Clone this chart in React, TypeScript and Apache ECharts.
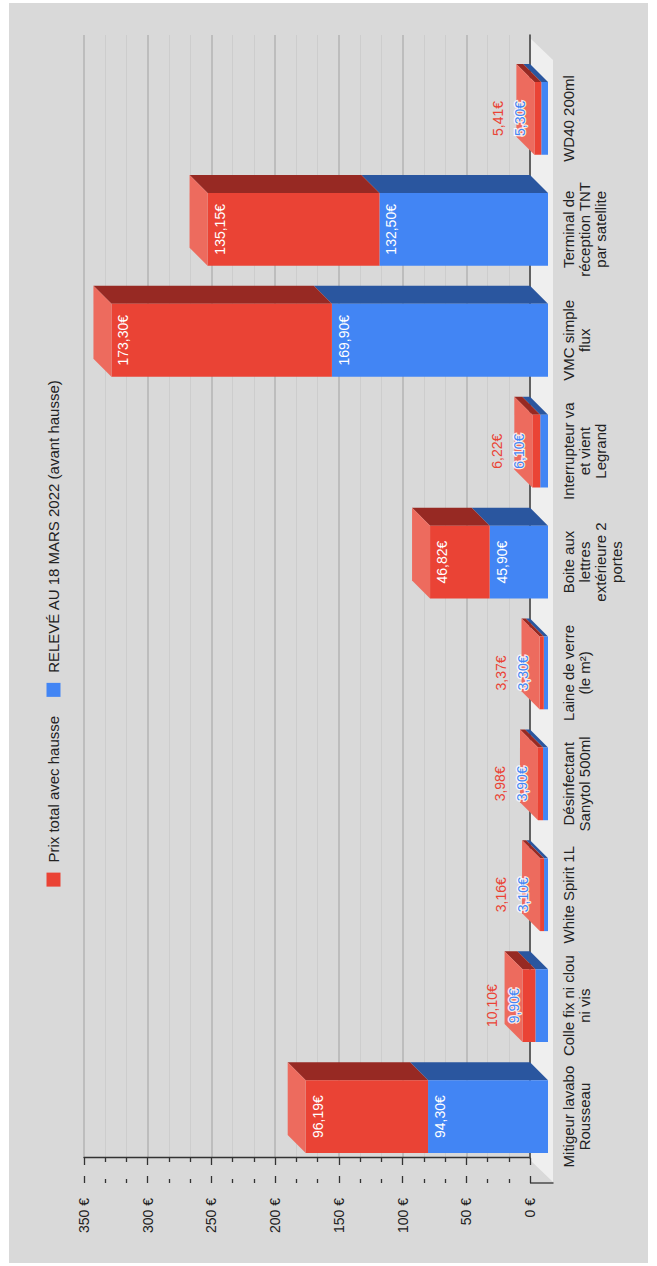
import React, { useEffect, useRef } from "react";
import * as echarts from "echarts";

const CATEGORIES = [
  "Mitigeur lavabo\nRousseau",
  "Colle fix ni clou\nni vis",
  "White Spirit 1L",
  "Désinfectant\nSanytol 500ml",
  "Laine de verre\n(le m²)",
  "Boite aux\nlettres\nextérieure 2\nportes",
  "Interrupteur va\net vient\nLegrand",
  "VMC simple\nflux",
  "Terminal de\nréception TNT\npar satellite",
  "WD40 200ml",
];
const BEFORE = [94.3, 9.9, 3.1, 3.9, 3.3, 45.9, 6.1, 169.9, 132.5, 5.3];
const AFTER = [96.19, 10.1, 3.16, 3.98, 3.37, 46.82, 6.22, 173.3, 135.15, 5.41];
const NAME_AFTER = "Prix total avec hausse";
const NAME_BEFORE = "RELEVÉ AU 18 MARS 2022 (avant hausse)";
const AXIS_MIN = 0;
const AXIS_MAX = 350;
const AXIS_STEP = 50;

const FONT = "'Liberation Sans', Arial, sans-serif";
const BLUE = { front: "#4285f4", side: "#2a569f", top: "#6a9ff6" };
const RED = { front: "#ea4335", side: "#972923", top: "#ed6b5e" };
const DEPTH = 18;

const fmt = (v: number) => v.toFixed(2).replace(".", ",") + "€";

function makeRender(kind: "before" | "after") {
  return (params: any, api: any) => {
    const i = api.value(0);
    const base = api.value(1);
    const top = api.value(2);
    const val = api.value(3);
    const anchor = api.value(4);
    const pb = api.coord([i, base]);
    const pt = api.coord([i, top]);
    const pa = api.coord([i, anchor]);
    const p0 = api.coord([i, 0]);
    const w = api.size([1, 0])[0] * 0.656;
    const x0 = pb[0] - w / 2;
    const x1 = pb[0] + w / 2;
    const yB = pb[1];
    const yT = pt[1];
    const c = kind === "before" ? BLUE : RED;
    const d = DEPTH;
    const children: any[] = [
      {
        type: "polygon",
        shape: { points: [[x1, yB], [x1 + d, yB - d], [x1 + d, yT - d], [x1, yT]] },
        style: { fill: c.side },
      },
      {
        type: "rect",
        shape: { x: x0, y: yT, width: w, height: yB - yT },
        style: { fill: c.front },
      },
    ];
    if (kind === "after") {
      children.push({
        type: "polygon",
        shape: { points: [[x0, yT], [x0 + d, yT - d], [x1 + d, yT - d], [x1, yT]] },
        style: { fill: c.top },
      });
    }
    const inside = p0[1] - pa[1] > 30;
    if (inside) {
      children.push({
        type: "text",
        x: pb[0],
        y: yT + 5,
        z2: 20,
        style: {
          text: fmt(val),
          fill: "#ffffff",
          fontSize: 14,
          fontFamily: FONT,
          align: "center",
          verticalAlign: "top",
        },
      });
    } else {
      const isBlue = kind === "before";
      const ly = pa[1] - (isBlue ? 21 : 43);
      if (isBlue) {
        children.push({
          type: "text",
          x: pb[0],
          y: ly,
          z2: 19,
          silent: true,
          style: {
            text: fmt(val),
            fill: "rgba(255,255,255,0.85)",
            stroke: "rgba(255,255,255,0.85)",
            lineWidth: 2.5,
            fontSize: 14,
            fontFamily: FONT,
            align: "center",
            verticalAlign: "middle",
          },
        });
      }
      children.push({
        type: "text",
        x: pb[0],
        y: ly,
        z2: 20,
        style: {
          text: fmt(val),
          fill: c.front,
          fontSize: 14,
          fontFamily: FONT,
          align: "center",
          verticalAlign: "middle",
        },
      });
    }
    return { type: "group", children };
  };
}

const beforeData = BEFORE.map((v, i) => [i, 0, v, v, v]);
const afterData = AFTER.map((v, i) => [i, BEFORE[i], BEFORE[i] + v, v, BEFORE[i]]);

export default function App() {
  const ref = useRef<HTMLDivElement>(null);
  useEffect(() => {
    if (!ref.current) return;
    const chart = echarts.init(ref.current, null, { renderer: "svg" });
    const option: any = {
      animation: false,
      backgroundColor: "#d9d9d9",
      textStyle: { fontFamily: FONT },
      legend: {
        data: [NAME_AFTER, NAME_BEFORE],
        left: "center",
        top: 32,
        icon: "rect",
        itemWidth: 14,
        itemHeight: 14,
        itemGap: 19,
        textStyle: { fontSize: 15, color: "#222", fontFamily: FONT, padding: [0, 0, 0, 5] },
      },
      grid: [
        { left: 91, right: 60, top: 93.8, bottom: 100 },
        { left: 105, right: 32, top: 75, bottom: 118 },
      ],
      graphic: [
        {
          type: "polygon",
          z: 0,
          silent: true,
          shape: { points: [[103, 521], [1225, 521], [1203, 544], [81, 544]] },
          style: { fill: "#efefef" },
        },
        {
          type: "line",
          z: 1,
          silent: true,
          shape: { x1: 80, y1: 521, x2: 80, y2: 544.5 },
          style: { stroke: "#333", lineWidth: 1.3 },
        },
      ],
      xAxis: [
        {
          gridIndex: 0,
          type: "category",
          data: CATEGORIES,
          axisLine: { show: false },
          axisTick: { show: false },
          splitLine: { show: false },
          axisLabel: {
            interval: 0,
            margin: 12,
            fontSize: 15,
            lineHeight: 16,
            color: "#222",
            fontFamily: FONT,
          },
        },
        {
          gridIndex: 1,
          type: "value",
          min: 0,
          max: 1,
          z: 1,
          axisLine: { show: true, lineStyle: { color: "#4a4a4a", width: 1.6 } },
          axisTick: { show: false },
          axisLabel: { show: false },
          splitLine: { show: false },
        },
      ],
      yAxis: [
        { gridIndex: 0, type: "value", min: AXIS_MIN, max: AXIS_MAX, show: false },
        {
          gridIndex: 1,
          type: "value",
          position: "left",
          offset: 25,
          min: AXIS_MIN,
          max: AXIS_MAX,
          interval: AXIS_STEP,
          z: 0,
          axisLine: { show: true, lineStyle: { color: "#333", width: 1.3 } },
          axisTick: { show: true, length: 7, lineStyle: { color: "#333", width: 1.3 } },
          minorTick: { show: true, splitNumber: 3, length: 4, lineStyle: { color: "#333", width: 1.3 } },
          axisLabel: {
            margin: 15,
            fontSize: 14,
            color: "#222",
            fontFamily: FONT,
            formatter: (v: number) => `${v} €`,
          },
          splitLine: { show: true, lineStyle: { color: "#b3b3b3", width: 1.5 } },
          minorSplitLine: { show: true, lineStyle: { color: "#cdcdcd", width: 1 } },
        },
        {
          gridIndex: 1,
          type: "value",
          position: "left",
          offset: 25,
          min: AXIS_MIN,
          max: AXIS_MAX,
          interval: AXIS_STEP,
          z: 0,
          axisLine: { show: false },
          axisTick: { show: true, inside: true, length: 7, lineStyle: { color: "#333", width: 1.3 } },
          minorTick: { show: true, splitNumber: 3, length: 4, lineStyle: { color: "#333", width: 1.3 } },
          axisLabel: { show: false },
          splitLine: { show: false },
        },
      ],
      series: [
        {
          name: NAME_BEFORE,
          type: "custom",
          xAxisIndex: 0,
          yAxisIndex: 0,
          z: 2,
          itemStyle: { color: BLUE.front },
          encode: { x: 0, y: 2 },
          renderItem: makeRender("before"),
          data: beforeData,
        },
        {
          name: NAME_AFTER,
          type: "custom",
          xAxisIndex: 0,
          yAxisIndex: 0,
          z: 2,
          itemStyle: { color: RED.front },
          encode: { x: 0, y: 2 },
          renderItem: makeRender("after"),
          data: afterData,
        },
      ],
    };
    chart.setOption(option);
    return () => chart.dispose();
  }, []);
  return (
    <div
      style={{
        position: "absolute",
        left: 9,
        top: 3,
        width: 639,
        height: 1260,
        overflow: "hidden",
      }}
    >
      <div
        ref={ref}
        style={{
          position: "absolute",
          left: 0,
          top: 0,
          width: 1260,
          height: 639,
          transformOrigin: "0 0",
          transform: "translate(0px, 1260px) rotate(-90deg)",
        }}
      />
    </div>
  );
}
